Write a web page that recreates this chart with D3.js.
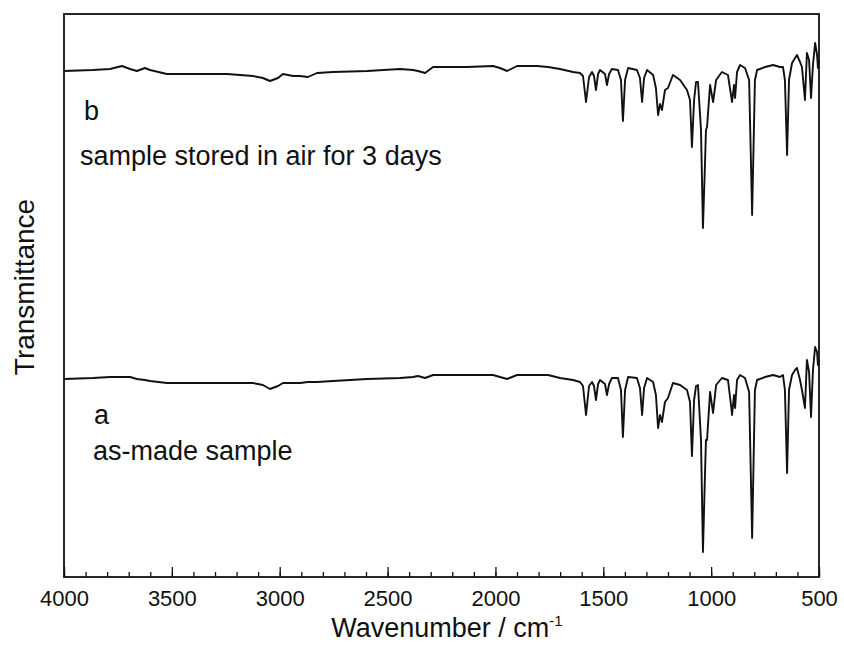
<!DOCTYPE html>
<html>
<head>
<meta charset="utf-8">
<script src="https://d3js.org/d3.v7.min.js"></script>
<style>
  body { margin: 0; background: #fff; }
  text { font-family: "Liberation Sans", Arial, sans-serif; fill: #111; }
</style>
</head>
<body>
<svg id="chart" width="844" height="646"></svg>
<script>
// wavenumber grid (cm-1)
var wavenumber = [4000, 3866, 3787, 3731, 3694, 3662, 3625, 3601, 3523, 3402,
  3244, 3124, 3078, 3045, 3008, 2985, 2938, 2906, 2869, 2827,
  2753, 2595, 2442, 2382, 2359, 2326, 2289, 2132, 2011, 1979,
  1946, 1900, 1807, 1756, 1701, 1640, 1608, 1594, 1580, 1566,
  1552, 1543, 1534, 1524, 1515, 1492, 1483, 1473, 1460, 1432,
  1418, 1409, 1399, 1385, 1344, 1330, 1320, 1311, 1297, 1269,
  1256, 1246, 1237, 1228, 1214, 1200, 1177, 1144, 1112, 1098,
  1089, 1079, 1070, 1061, 1047, 1038, 1028, 1024, 1019, 1005,
  991, 977, 950, 922, 908, 903, 894, 889, 880, 866,
  843, 824, 810, 797, 787, 750, 713, 681, 667, 658,
  648, 639, 625, 611, 602, 588, 579, 565, 556, 546,
  537, 528, 518, 509, 505, 500];

// trace b: sample stored in air for 3 days (arb. units, offset)
var transB = [506, 507, 508, 511, 508, 506, 509, 507, 503, 503,
  503, 501, 499, 496, 499, 503, 501, 501, 500, 504,
  505, 506, 508, 507, 506, 504, 510, 510, 511, 509,
  506, 511, 511, 510, 508, 505, 504, 501, 475, 500,
  505, 501, 487, 503, 507, 503, 492, 503, 508, 507,
  497, 456, 497, 509, 507, 499, 475, 499, 507, 502,
  489, 462, 473, 467, 487, 489, 502, 497, 487, 477,
  430, 477, 495, 495, 447, 349, 417, 447, 450, 492,
  475, 497, 505, 502, 482, 475, 492, 479, 505, 512,
  509, 497, 362, 497, 507, 510, 512, 510, 510, 497,
  422, 497, 514, 519, 522, 515, 510, 477, 524, 517,
  479, 512, 534, 522, 509, 517];

// trace a: as-made sample
var transA = [198, 199, 200, 200, 200, 198, 197, 196, 194, 194,
  194, 194, 192, 188, 191, 194, 194, 194, 195, 195,
  196, 198, 199, 200, 201, 199, 202, 202, 202, 200,
  198, 202, 202, 202, 199, 197, 195, 191, 162, 191,
  195, 191, 177, 193, 197, 193, 182, 193, 199, 199,
  187, 140, 187, 200, 199, 189, 162, 189, 199, 195,
  182, 149, 162, 155, 175, 179, 194, 192, 187, 175,
  121, 177, 191, 192, 137, 25, 107, 137, 137, 185,
  164, 192, 199, 197, 172, 162, 182, 169, 197, 202,
  199, 185, 39, 187, 197, 200, 202, 200, 202, 187,
  104, 187, 202, 207, 209, 197, 187, 169, 217, 205,
  160, 207, 230, 225, 212, 217];

var majorTicks = [4000, 3500, 3000, 2500, 2000, 1500, 1000, 500];

var svg = d3.select("#chart");
var margin = { top: 14, right: 25, bottom: 69, left: 64 };
var width = 844 - margin.left - margin.right;
var height = 646 - margin.top - margin.bottom;

var g = svg.append("g").attr("transform", "translate(" + margin.left + "," + margin.top + ")");

var x = d3.scaleLinear().domain([4000, 500]).range([0, width]);
var y = d3.scaleLinear().domain([0, 563]).range([height, 0]);

// minor ticks every 100
var minorAxis = d3.axisBottom(x).tickValues(d3.range(4000, 499, -100)).tickSize(-5).tickFormat("");
g.append("g").attr("transform", "translate(0," + height + ")").call(minorAxis)
  .call(function(s) { s.select(".domain").remove(); s.selectAll("line").attr("stroke", "#111").attr("stroke-width", 1.3); });

var majorAxis = d3.axisBottom(x).tickValues(majorTicks).tickSize(-10).tickPadding(13).tickFormat(d3.format("d"));
g.append("g").attr("transform", "translate(0," + height + ")").call(majorAxis)
  .call(function(s) {
    s.select(".domain").remove();
    s.selectAll("line").attr("stroke", "#111").attr("stroke-width", 1.3);
    s.selectAll("text").attr("font-size", 22).attr("fill", "#111")
      .attr("font-family", "Liberation Sans, Arial, sans-serif");
  });

// frame
g.append("rect").attr("x", 0).attr("y", 0).attr("width", width).attr("height", height)
  .attr("fill", "none").attr("stroke", "#111").attr("stroke-width", 1.8);

var line = d3.line()
  .x(function(d) { return x(d[0]); })
  .y(function(d) { return y(d[1]); });

[transB, transA].forEach(function(vals) {
  g.append("path")
    .datum(wavenumber.map(function(w, i) { return [w, vals[i]]; }))
    .attr("d", line)
    .attr("fill", "none")
    .attr("stroke", "#111")
    .attr("stroke-width", 1.9)
    .attr("stroke-linejoin", "round");
});

// labels
svg.append("text").attr("x", 84).attr("y", 120).attr("font-size", 27).text("b");
svg.append("text").attr("x", 80).attr("y", 165).attr("font-size", 27).text("sample stored in air for 3 days");
svg.append("text").attr("x", 94).attr("y", 424).attr("font-size", 27).text("a");
svg.append("text").attr("x", 93).attr("y", 460).attr("font-size", 27).text("as-made sample");

var xt = svg.append("text").attr("x", 447).attr("y", 637).attr("font-size", 27).attr("text-anchor", "middle");
xt.append("tspan").text("Wavenumber / cm");
xt.append("tspan").attr("dy", -11).attr("font-size", 15).text("-1");

svg.append("text").attr("transform", "translate(34,287) rotate(-90)")
  .attr("text-anchor", "middle").attr("font-size", 28).text("Transmittance");
</script>
</body>
</html>
